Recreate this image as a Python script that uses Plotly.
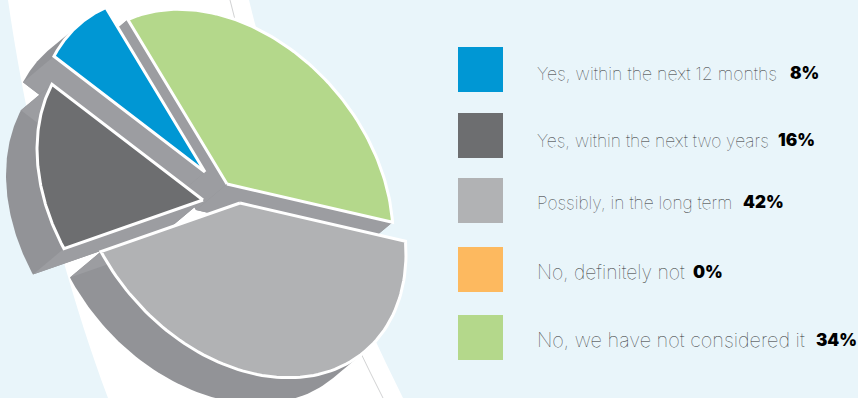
import numpy as np
import plotly.graph_objects as go

# Survey answers, in legend order
labels = ["Yes, within the next 12 months", "Yes, within the next two years",
          "Possibly, in the long term", "No, definitely not",
          "No, we have not considered it"]
values = [8, 16, 42, 0, 34]
colors = ["#0097D4", "#6D6E70", "#B1B2B4", "#FDB95F", "#B4D88B"]

# Where each wedge's tip sits once the pie is pulled apart
tips = [(205, 172), (203, 200), (240, 203), (227, 190), (227, 184)]
paint_order = [4, 0, 1, 2]  # back to front

# Tilted-disc projection of the pie
START_DEG = -28
MAJOR, MINOR, AXIS_DEG = 194, 143, -40
DEPTH = np.array([-31.0, 26.0])
SIDE_ARC = "#929397"
SIDE_FLAT = "#9C9DA1"
BACKGROUND = "#E9F5FA"


def project(phi_deg):
    """Map clockwise-from-top angles onto the tilted ellipse (screen offsets)."""
    phi = np.radians(np.asarray(phi_deg, dtype=float))
    axis = np.radians(AXIS_DEG)
    u = np.column_stack([np.sin(phi), -np.cos(phi)])
    d1 = np.array([np.sin(axis), -np.cos(axis)])
    d2 = np.array([np.cos(axis), np.sin(axis)])
    return np.outer(u @ d1, d1) * MAJOR + np.outer(u @ d2, d2) * MINOR


def hull(points):
    pts = sorted(map(tuple, points))

    def half(seq):
        out = []
        for p in seq:
            while len(out) > 1 and ((out[-1][0] - out[-2][0]) * (p[1] - out[-2][1])
                                    - (out[-1][1] - out[-2][1]) * (p[0] - out[-2][0])) <= 0:
                out.pop()
            out.append(p)
        return out[:-1]

    return np.array(half(pts) + half(pts[::-1]))


def polygon(fig, pts, fill, line_color=None, line_width=0, name=""):
    pts = np.vstack([pts, pts[:1]])
    fig.add_trace(go.Scatter(
        x=pts[:, 0], y=pts[:, 1], mode="lines", fill="toself", fillcolor=fill,
        line=dict(color=line_color or fill, width=line_width),
        hoveron="fills", text=name, hoverinfo="text" if name else "skip",
        showlegend=False))


fig = go.Figure()

# Wedge angle ranges, running counter-clockwise from the starting angle
ends = START_DEG - np.cumsum(values) * 3.6
starts = np.concatenate([[START_DEG], ends[:-1]])

for i in paint_order:
    phi = np.linspace(starts[i], ends[i], 90)
    tip = np.array(tips[i], dtype=float)
    rim = project(phi) + tip
    top = np.vstack([tip, rim])
    # Side wall: the face swept along the depth direction
    polygon(fig, hull(np.vstack([top, top + DEPTH])), SIDE_ARC)
    for edge in (rim[0], rim[-1]):
        polygon(fig, np.array([tip, edge, edge + DEPTH, tip + DEPTH]), SIDE_FLAT)
    polygon(fig, top, colors[i], "#FFFFFF", 3, f"{labels[i]}: {values[i]}%")

# Legend swatches and captions
rows = [69.5, 135.5, 200.5, 269.5, 337.5]
fig.add_trace(go.Scatter(
    x=[480.5] * len(rows), y=rows, mode="markers",
    marker=dict(symbol="square", size=45, color=colors, line=dict(width=0)),
    hoverinfo="skip", showlegend=False))

pct_x = [788, 776, 741, 691, 814]
text_rows = [73, 140, 202, 272, 340]
caption_sizes = [17.7, 17.4, 17.4, 19.4, 19.9]
annotations = []
for label, value, y, px, size in zip(labels, values, text_rows, pct_x, caption_sizes):
    annotations.append(dict(
        x=535, y=y, text=label, xref="x", yref="y", xanchor="left", yanchor="middle",
        showarrow=False, font=dict(family="Inter", size=size, weight=100, color="#2E2F31")))
    annotations.append(dict(
        x=px, y=y, text=f"{value}%", xref="x", yref="y", xanchor="left", yanchor="middle",
        showarrow=False, font=dict(family="Inter", size=17, weight=900, color="#000000")))

# White sweep behind the pie and its hairline edges
shapes = [
    dict(type="path", layer="below", line=dict(width=0), fillcolor="#FFFFFF",
         path="M 8 0 C 25 120 60 270 108 398 L 403 398 C 340 270 280 130 249 0 Z"),
    dict(type="path", layer="below", line=dict(color="#BDBEC0", width=0.7),
         path="M 230 0 C 262 130 318 270 383 398"),
]

fig.update_layout(
    width=858, height=398, margin=dict(l=0, r=0, t=0, b=0),
    paper_bgcolor=BACKGROUND, plot_bgcolor=BACKGROUND,
    xaxis=dict(range=[0, 858], visible=False, fixedrange=True),
    yaxis=dict(range=[398, 0], visible=False, fixedrange=True),
    annotations=annotations, shapes=shapes, showlegend=False)

fig.write_html("out.html")
